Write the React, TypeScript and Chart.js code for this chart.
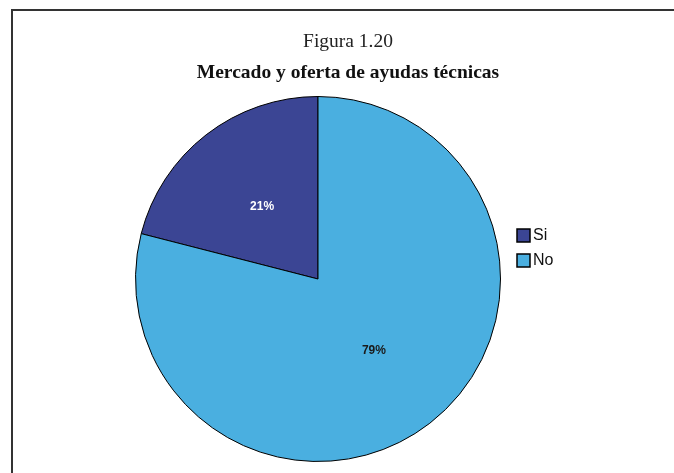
import React, { useEffect, useRef } from "react";
import { Chart, registerables } from "chart.js";

Chart.register(...registerables);

const titleText = "Figura 1.20";
const subtitleText = "Mercado y oferta de ayudas técnicas";
const categories = ["Si", "No"];
const values = [21, 79];
const sliceColors = ["#3b4594", "#4aafe0"];
const labelColors = ["#ffffff", "#1a1a1a"];

const headings = {
  id: "headings",
  afterDraw(chart: any) {
    const ctx = chart.ctx;
    ctx.save();
    ctx.textAlign = "center";
    ctx.textBaseline = "middle";
    ctx.fillStyle = "#222";
    ctx.font = "19.5px 'Liberation Serif', serif";
    ctx.fillText(titleText, 348, 42);
    ctx.fillStyle = "#111";
    ctx.font = "bold 19.5px 'Liberation Serif', serif";
    ctx.fillText(subtitleText, 348, 73);
    ctx.restore();
  },
};

const percentLabels = {
  id: "percentLabels",
  afterDatasetsDraw(chart: any) {
    const ctx = chart.ctx;
    const meta = chart.getDatasetMeta(0);
    ctx.save();
    ctx.font = "bold 12px 'Liberation Sans', Arial, sans-serif";
    ctx.textAlign = "center";
    ctx.textBaseline = "middle";
    meta.data.forEach((arc: any, i: number) => {
      const p = arc.tooltipPosition();
      ctx.fillStyle = labelColors[i];
      ctx.fillText(values[i] + "%", p.x, p.y);
    });
    ctx.restore();
  },
};

const sideLegend = {
  id: "sideLegend",
  afterDraw(chart: any) {
    const ctx = chart.ctx;
    const ds = chart.data.datasets[0];
    ctx.save();
    ctx.font = "16px 'Liberation Sans', Arial, sans-serif";
    ctx.textBaseline = "middle";
    ctx.textAlign = "left";
    chart.data.labels.forEach((lab: string, i: number) => {
      const x = 517;
      const y = 229 + i * 25;
      ctx.fillStyle = ds.backgroundColor[i];
      ctx.fillRect(x, y, 13, 13);
      ctx.lineWidth = 1.5;
      ctx.strokeStyle = "#000";
      ctx.strokeRect(x, y, 13, 13);
      ctx.fillStyle = "#111";
      ctx.fillText(lab, x + 16, y + 7);
    });
    ctx.restore();
  },
};

export default function App() {
  const ref = useRef<HTMLCanvasElement>(null);
  useEffect(() => {
    if (!ref.current) return;
    const chart = new Chart(ref.current, {
      type: "pie",
      data: {
        labels: categories,
        datasets: [
          {
            data: values,
            backgroundColor: sliceColors,
            borderColor: "#000",
            borderWidth: 1,
          },
        ],
      },
      options: {
        responsive: false,
        animation: false,
        rotation: -(values[0] / (values[0] + values[1])) * 360,
        layout: { padding: { left: 100, right: 138, top: 96, bottom: 11 } },
        plugins: {
          legend: { display: false },
          tooltip: { enabled: false },
          title: { display: false },
        },
      },
      plugins: [percentLabels, sideLegend, headings],
    });
    return () => chart.destroy();
  }, []);
  return (
    <div style={{ position: "fixed", left: 0, top: 0, width: 674, height: 473, background: "#fff", overflow: "hidden" }}>
      <div
        style={{
          position: "absolute",
          left: 11,
          top: 9,
          width: 700,
          height: 500,
          borderLeft: "2px solid #333",
          borderTop: "2px solid #333",
        }}
      />
      <canvas ref={ref} width={674} height={473} style={{ position: "absolute", left: 0, top: 0 }} />
    </div>
  );
}
